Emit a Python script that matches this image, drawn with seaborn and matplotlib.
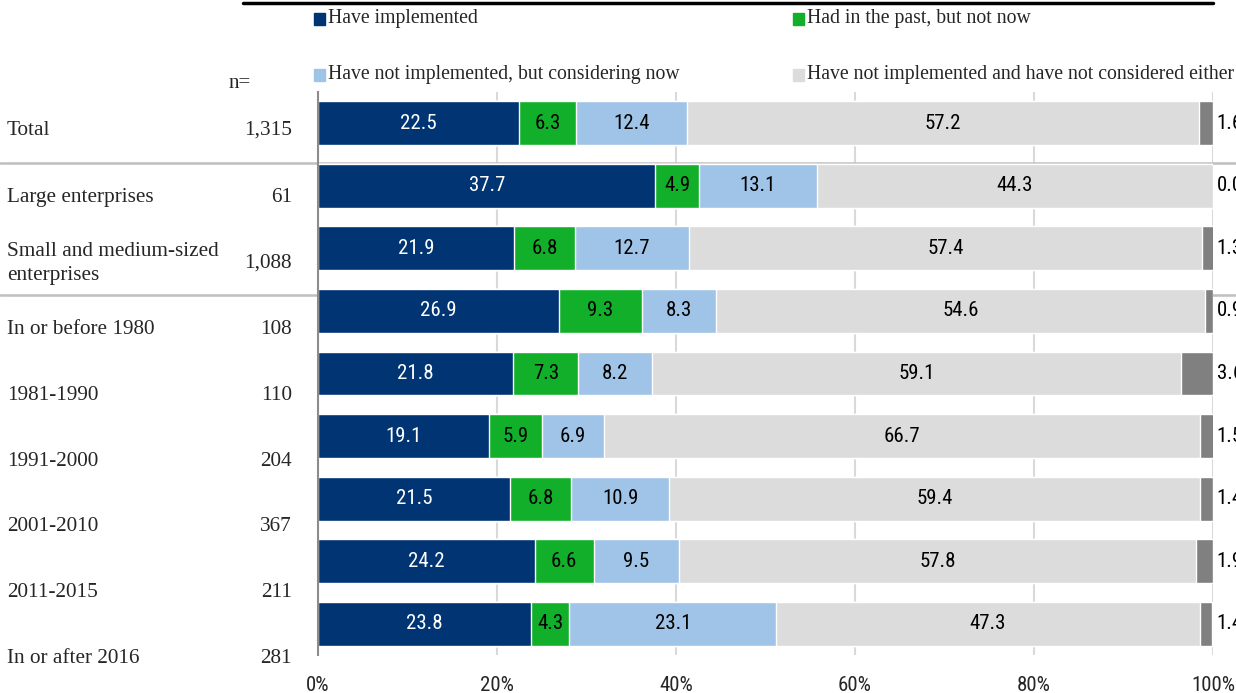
import matplotlib
matplotlib.use("Agg")
import matplotlib.pyplot as plt
from matplotlib import font_manager
from matplotlib.lines import Line2D
import numpy as np
import pandas as pd
import seaborn as sns

categories = ["Total", "Large enterprises", "Small and medium-sized\nenterprises",
              "In or before 1980", "1981-1990", "1991-2000", "2001-2010",
              "2011-2015", "In or after 2016"]
n_values = ["1,315", "61", "1,088", "108", "110", "204", "367", "211", "281"]

series = ["Have implemented", "Had in the past, but not now",
          "Have not implemented, but considering now",
          "Have not implemented and have not considered either", "No answer"]

have_implemented = [22.5, 37.7, 21.9, 26.9, 21.8, 19.1, 21.5, 24.2, 23.8]
had_in_past = [6.3, 4.9, 6.8, 9.3, 7.3, 5.9, 6.8, 6.6, 4.3]
considering_now = [12.4, 13.1, 12.7, 8.3, 8.2, 6.9, 10.9, 9.5, 23.1]
not_considered = [57.2, 44.3, 57.4, 54.6, 59.1, 66.7, 59.4, 57.8, 47.3]
no_answer = [1.6, 0.0, 1.3, 0.9, 3.6, 1.5, 1.4, 1.9, 1.4]

colors = ["#003473", "#12B02A", "#A0C4E8", "#DCDCDC", "#808080"]
text_colors = ["white", "black", "black", "black", "black"]

available = {f.name for f in font_manager.fontManager.ttflist}
serif = "Liberation Serif" if "Liberation Serif" in available else "DejaVu Serif"
narrow = "Liberation Sans"
for cand in ["Liberation Sans Narrow", "Roboto Condensed", "Open Sans Condensed"]:
    if cand in available:
        narrow = cand
        break

df = pd.DataFrame({"category": categories, series[0]: have_implemented,
                   series[1]: had_in_past, series[2]: considering_now,
                   series[3]: not_considered, series[4]: no_answer})
cum = df[series].cumsum(axis=1)

sns.set_style("white")
fig = plt.figure(figsize=(12.36, 6.93), dpi=100)
ax = fig.add_axes([318 / 1236, 1 - 655 / 693, 895 / 1236, 563 / 693])

# stacked bars: draw cumulative totals from the back
for i in range(len(series) - 1, -1, -1):
    sns.barplot(x=cum[series[i]], y=df["category"], color=colors[i], orient="h",
                width=0.7, saturation=1, ax=ax, zorder=3)

for i, s in enumerate(series):
    vals = df[s].values
    centers = cum[s].values - vals / 2
    for r, (v, c) in enumerate(zip(vals, centers)):
        if i == len(series) - 1:
            ax.text(100.4, r, f"{v:.1f}", ha="left", va="center", fontsize=15,
                    family=narrow, color="black", clip_on=False)
        else:
            ax.text(c, r, f"{v:.1f}", ha="center", va="center", fontsize=15,
                    family=narrow, color=text_colors[i], zorder=5)

ax.set_xlim(0, 100)
ax.set_ylim(8.5, -0.5)
ax.set_xticks(np.arange(0, 101, 20))
ax.set_xticklabels([f"{t}%" for t in range(0, 101, 20)], family=narrow, fontsize=15)
ax.set_yticks([])
ax.set_xlabel("")
ax.set_ylabel("")
ax.grid(axis="x", color="#D9D9D9", linewidth=1.5, zorder=0)
ax.tick_params(axis="x", length=5, width=1.5, color="#D9D9D9", pad=10)
for sp in ["top", "right", "bottom"]:
    ax.spines[sp].set_visible(False)
ax.spines["left"].set_color("#8C8C8C")
ax.spines["left"].set_linewidth(1.5)
ax.spines["left"].set_zorder(6)

# row labels and n (offset like the original table)
label_y = [0.11, 1.18, 2.24, 3.29, 4.35, 5.40, 6.44, 7.50, 8.56]
for r, (lab, n) in enumerate(zip(categories, n_values)):
    ax.text(-0.3475, label_y[r], lab, transform=ax.get_yaxis_transform(),
            ha="left", va="center", fontsize=15.3, family=serif, linespacing=1.4,
            clip_on=False)
    ax.text(-0.029, label_y[r], n, transform=ax.get_yaxis_transform(),
            ha="right", va="center", fontsize=15.3, family=serif, clip_on=False)
fig.text(229 / 1236, 1 - 84 / 693, "n=", ha="left", va="center", fontsize=15, family=serif)

# separator lines
ytr = ax.get_yaxis_transform()
ax.plot([-0.3553, 1.0257], [0.63, 0.63], transform=ytr, color="#BFBFBF",
        linewidth=1.8, clip_on=False, zorder=1)
ax.plot([-0.3553, 1.0257], [2.74, 2.74], transform=ytr, color="#BFBFBF",
        linewidth=1.8, clip_on=False, zorder=1)

# top rule
fig.add_artist(Line2D([243 / 1236, 1213 / 1236], [1 - 3 / 693, 1 - 3 / 693],
                      color="black", linewidth=2.5))

# legend
leg_pos = [(314, 19), (793, 19), (314, 75), (793, 75)]
for i, (x, y) in enumerate(leg_pos):
    fig.patches.append(plt.Rectangle((x / 1236, 1 - (y + 6) / 693), 11 / 1236, 12 / 693,
                                     transform=fig.transFigure, color=colors[i]))
    fig.text((x + 14) / 1236, 1 - y / 693, series[i], ha="left", va="center",
             fontsize=14.2, family=serif)

fig.savefig("out.png", dpi=100)
